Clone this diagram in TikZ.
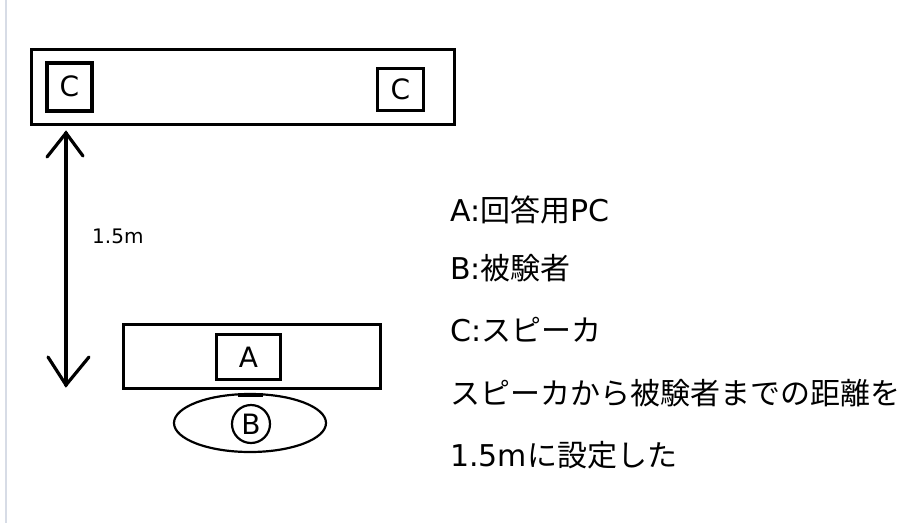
\documentclass[tikz,border=0pt]{standalone}
\usepackage{fontspec}
\usetikzlibrary{shapes.geometric}
\setmainfont{Noto Sans CJK JP}
\newfontfamily\jp{Noto Sans CJK JP}
\newfontfamily\dv{DejaVu Sans}
\begin{document}
\begin{tikzpicture}[x=1pt,y=-1pt,
  box/.style={draw,line width=2.6pt,inner sep=0pt,anchor=north west},
  lbl/.style={font=\jp\fontsize{30}{30}\selectfont,anchor=west,inner sep=0pt},
  hd/.style={line width=3.2pt,line cap=round}]
\useasboundingbox (0,0) rectangle (910,523);
\fill[white] (0,0) rectangle (910,523);
\draw[color={rgb,255:red,215;green,220;blue,230},line width=1.5pt] (6,0) -- (6,523);
% speaker table
\node[box,line width=3.2pt,minimum width=423pt,minimum height=75pt] (top) at (30,48) {};
\node[box,line width=3.6pt,minimum width=45pt,minimum height=48pt,font=\dv\fontsize{28}{28}\selectfont] (c1) at (45,61) {C};
\node[box,minimum width=46pt,minimum height=42pt,font=\dv\fontsize{28}{28}\selectfont] (c2) at (376,67) {C};
% PC table
\node[box,minimum width=257pt,minimum height=64pt] (desk) at (122,323) {};
\node[box,line width=3pt,minimum width=64pt,minimum height=45pt,font=\dv\fontsize{28}{28}\selectfont] (a) at (215,333) {A};
% subject
\node[draw,line width=2.2pt,ellipse,minimum width=152pt,minimum height=58pt,inner sep=0pt] (seat) at (250,423) {};
\draw[line width=4pt] (238,395) -- (263,395);
\node[draw,line width=2.2pt,circle,minimum size=38pt,inner sep=0pt,font=\dv\fontsize{28}{28}\selectfont] (b) at (251,424) {B};
% distance arrow
\coordinate (t) at (66,133);
\coordinate (bt) at (66,385);
\draw[hd] (t) -- (bt);
\draw[hd] (47,157) -- (t) -- (83,156);
\draw[hd] (48,357) -- (bt) -- (89,357);
\node[font=\dv\fontsize{20}{20}\selectfont,anchor=west,inner sep=0pt] (d) at (92,236) {1.5m};
% legend
\node[lbl] (l1) at (450,210) {{\dv A:}回答用{\dv PC}};
\node[lbl] (l2) at (450,268) {{\dv B:}被験者};
\node[lbl] (l3) at (450,330) {{\dv C:}スピーカ};
\node[lbl] (l4) at (450,393) {スピーカから被験者までの距離を};
\node[lbl] (l5) at (450,455) {{\dv 1.5m}に設定した};
\end{tikzpicture}
\end{document}
